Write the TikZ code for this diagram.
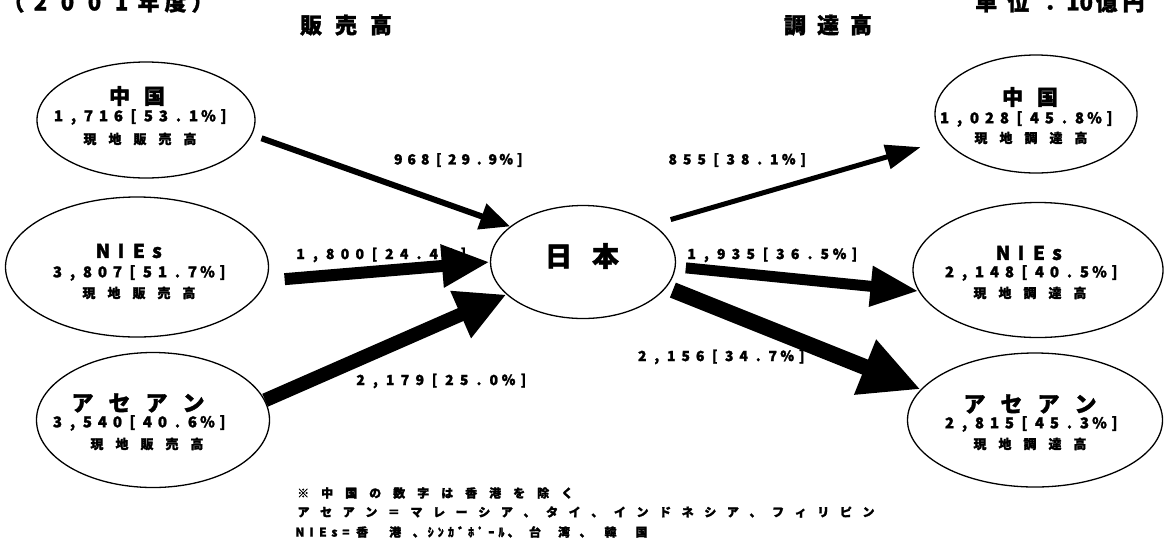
\documentclass[tikz,border=0pt]{standalone}
\usepackage{fontspec}
\setmainfont{Noto Sans CJK JP}[BoldFeatures={FakeBold=1.5}]
\usetikzlibrary{shapes.geometric,arrows.meta}
\makeatletter
\newcommand\gr[2]{\@tfor\grch:=#2\do{\makebox[#1][c]{\grch}}}
\makeatother
\tikzset{
  ell/.style={draw, ellipse, line width=1.3pt, inner sep=0pt},
  txt/.style={inner sep=0pt, font=\bfseries},
  ttl/.style={txt, font=\bfseries\fontsize{21}{23}\selectfont},
  numtxt/.style={txt, font=\bfseries\fontsize{15}{17}\selectfont},
  subtxt/.style={txt, font=\bfseries\fontsize{13}{15}\selectfont},
  lbl/.style={txt, font=\bfseries\fontsize{14}{16}\selectfont},
  hdr/.style={txt, font=\bfseries\fontsize{22}{24}\selectfont},
  note/.style={txt, anchor=west, font=\bfseries\fontsize{12}{14}\selectfont},
  flow/.style={draw=black, line cap=butt}
}
\begin{document}
\begin{tikzpicture}[x=1pt,y=-1pt]
\useasboundingbox (0,0) rectangle (1166,542);
\fill[white] (0,0) rectangle (1166,542);

% headers
\node[hdr] (year) at (108,2) {\gr{27pt}{（2001年度）}};
\node[hdr, anchor=west] (unit) at (970,2) {\gr{32pt}{単位：}10\gr{27pt}{億円}};
\node[hdr] (sales) at (346,25) {\gr{35pt}{販売高}};
\node[hdr] (proc) at (828,25) {\gr{33pt}{調達高}};

% ellipses
\node[ell, minimum width=218, minimum height=116] (lc) at (146,120) {};
\node[ell, minimum width=263, minimum height=140] (ln) at (137,267) {};
\node[ell, minimum width=233, minimum height=135] (la) at (153,420) {};
\node[ell, minimum width=202, minimum height=118] (rc) at (1036,114) {};
\node[ell, minimum width=250, minimum height=135] (rn) at (1038,270) {};
\node[ell, minimum width=255, minimum height=134] (ra) at (1035,420) {};
\node[ell, minimum width=185, minimum height=113] (jp) at (583,262) {};
\node[txt, font=\bfseries\fontsize{27}{29}\selectfont] (jpt) at (582,256) {\gr{47pt}{日本}};

% ellipse texts
\node[ttl] (lct) at (137,96) {\gr{35pt}{中国}};
\node[numtxt] (lcn) at (141,117) {\gr{15pt}{1,716[53.1\%]}};
\node[subtxt] (lcs) at (140,139) {\gr{25pt}{現地販売高}};

\node[ttl, font=\bfseries\fontsize{19}{21}\selectfont] (lnt) at (130,251) {\gr{18pt}{NIEs}};
\node[numtxt] (lnn) at (140,273) {\gr{15pt}{3,807[51.7\%]}};
\node[subtxt] (lns) at (139,293) {\gr{25pt}{現地販売高}};

\node[ttl, font=\bfseries\fontsize{22}{24}\selectfont] (lat) at (138,403) {\gr{37pt}{アセアン}};
\node[numtxt] (lan) at (140,423) {\gr{15pt}{3,540[40.6\%]}};
\node[subtxt] (las) at (147,444) {\gr{25pt}{現地販売高}};

\node[ttl] (rct) at (1030,97) {\gr{35pt}{中国}};
\node[numtxt] (rcn) at (1027,119) {\gr{15pt}{1,028[45.8\%]}};
\node[subtxt] (rcs) at (1031,138) {\gr{25pt}{現地調達高}};

\node[ttl, font=\bfseries\fontsize{19}{21}\selectfont] (rnt) at (1030,253) {\gr{18pt}{NIEs}};
\node[numtxt] (rnn) at (1032,273) {\gr{15pt}{2,148[40.5\%]}};
\node[subtxt] (rns) at (1030,293) {\gr{25pt}{現地調達高}};

\node[ttl, font=\bfseries\fontsize{22}{24}\selectfont] (rat) at (1030,404) {\gr{37pt}{アセアン}};
\node[numtxt] (ran) at (1032,424) {\gr{15pt}{2,815[45.3\%]}};
\node[subtxt] (ras) at (1030,444) {\gr{25pt}{現地調達高}};

% flow labels
\node[lbl] (l1) at (459,160) {\gr{13.5pt}{968[29.9\%]}};
\node[lbl] (l2) at (382,255) {\gr{14.8pt}{1,800[24.4\%]}};
\node[lbl] (l3) at (442,381) {\gr{14.8pt}{2,179[25.0\%]}};
\node[lbl] (l4) at (738,160) {\gr{14.5pt}{855[38.1\%]}};
\node[lbl] (l5) at (773,255) {\gr{14.8pt}{1,935[36.5\%]}};
\node[lbl] (l6) at (722,357) {\gr{14.5pt}{2,156[34.7\%]}};

% arrows
\draw[flow, line width=6pt, -{Triangle[length=30pt,width=26pt]}, shorten <=10pt] (lc.-8) -- (jp.154);
\draw[flow, line width=12pt, -{Triangle[length=48pt,width=40pt]}, shorten <=18pt] (ln.-6) -- (jp.180);
\draw[flow, line width=14pt, -{Triangle[length=50pt,width=48pt]}] (la.10) -- (jp.-157);
\draw[flow, line width=5pt, -{Triangle[length=35pt,width=24pt]}, shorten <=18pt, shorten >=25pt] (jp.28) -- (rc.-164);
\draw[flow, line width=11pt, -{Triangle[length=48pt,width=38pt]}, shorten <=10pt] (jp.-3) -- (rn.-170.5);
\draw[flow, line width=16pt, -{Triangle[length=60pt,width=55pt]}, shorten <=7pt] (jp.-17.5) -- (ra.165.5);

% notes
\node[note] (n1) at (291,493) {\gr{24pt}{※中国の数字は香港を除く}};
\node[note] (n2) at (292,512) {\gr{22.6pt}{アセアン＝マレーシア、タイ、インドネシア、フィリピン}};
\node[note] (n3) at (294,532) {\gr{11.5pt}{NIEs=}\hspace{-6pt}\gr{33pt}{香港}\makebox[14pt][c]{、}\gr{10.1pt}{ｼﾝｶﾞﾎﾟｰﾙ}\makebox[14pt][c]{、}\gr{29pt}{台湾}\makebox[14pt][c]{、}\hspace{2.5pt}\gr{31pt}{韓国}};
\end{tikzpicture}
\end{document}
